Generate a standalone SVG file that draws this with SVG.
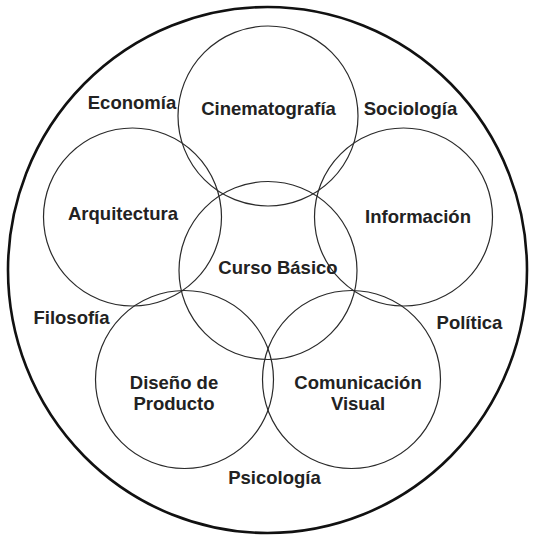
<svg xmlns="http://www.w3.org/2000/svg" width="535" height="536" viewBox="0 0 535 536">
<style>
.c{fill:none;stroke:#2a2a2a;stroke-width:1.2}
.o{fill:none;stroke:#111;stroke-width:2.6}
text{font-family:"Liberation Sans",Arial,sans-serif;font-weight:bold;font-size:18.5px;fill:#222;text-anchor:middle}
</style>
<rect width="535" height="536" fill="#fff"/>
<g id="outer"><ellipse class="o" cx="267.5" cy="270" rx="259.5" ry="263"/></g>
<g id="cinematografia"><circle class="c" cx="268" cy="116" r="90"/><text x="268.5" y="115">Cinematografía</text></g>
<g id="arquitectura"><circle class="c" cx="132.5" cy="217" r="89"/><text x="123" y="220">Arquitectura</text></g>
<g id="informacion"><circle class="c" cx="403.5" cy="217" r="89"/><text x="418" y="223">Información</text></g>
<g id="curso"><circle class="c" cx="268" cy="270.5" r="89"/><text x="278" y="274">Curso Básico</text></g>
<g id="diseno"><circle class="c" cx="184.5" cy="379.5" r="89"/><text x="174" y="389">Diseño de</text><text x="174" y="410">Producto</text></g>
<g id="comunicacion"><circle class="c" cx="351.5" cy="379.5" r="89"/><text x="358" y="389">Comunicación</text><text x="358" y="410">Visual</text></g>
<g id="labels">
<text x="132" y="109">Economía</text>
<text x="410.5" y="115">Sociología</text>
<text x="71.5" y="324">Filosofía</text>
<text x="469.5" y="329">Política</text>
<text x="274.5" y="484">Psicología</text>
</g>
<g id="connectors"/>
</svg>
